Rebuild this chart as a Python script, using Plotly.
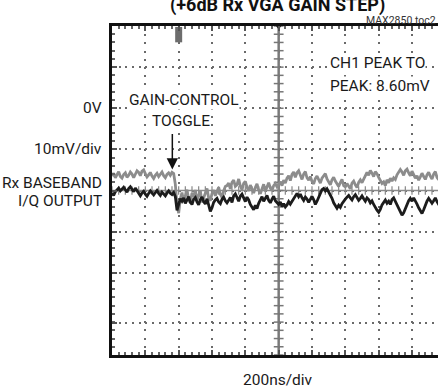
import numpy as np
import plotly.graph_objects as go

# Scope capture: 200 ns/div horizontally, 10 mV/div vertically (0 mV = 0V marker)
t_ns = np.arange(200) * 10  # sample spacing of the capture (10 ns)

ch_gray_mv = [
    -16.5, -15.8, -16.9, -16.0, -15.4, -16.6, -17.0, -16.1, -15.7, -16.8,
    -16.3, -15.5, -16.0, -16.9, -15.9, -15.2, -15.6, -16.4, -15.3, -15.0,
    -15.9, -16.7, -16.2, -15.6, -16.5, -17.1, -16.3, -15.8, -16.6, -16.0,
    -15.5, -16.4, -16.9, -16.1, -15.7, -16.3, -15.6, -15.9,
    -18.5, -23.5, -25.5, -22.0,
    -20.5, -22.8, -21.0, -19.8, -22.2, -23.0, -20.6, -21.5, -19.9, -22.4,
    -21.2, -20.0, -22.9, -21.6, -20.3, -19.5, -21.8, -22.5, -20.7, -19.9,
    -21.3, -20.4, -19.2, -20.9, -21.7, -20.1, -19.0, -18.8,
    -18.2, -19.6, -18.0, -17.5, -19.0, -18.6, -17.2, -18.9, -19.8, -18.3,
    -17.8, -19.2, -20.1, -18.7, -19.5, -20.6, -19.3, -18.4, -19.9, -20.8,
    -19.6, -18.5, -20.2, -19.0, -18.1, -19.4, -20.0, -18.8, -18.3, -19.1,
    -18.6, -17.9, -18.8, -17.5, -18.2, -17.0, -16.4, -17.6, -16.1, -15.5,
    -16.8, -15.7, -15.2, -16.5, -17.3, -16.0, -15.4, -16.9, -17.5, -16.6,
    -17.8, -18.4, -17.1, -16.5, -17.6, -18.2, -17.0, -16.3, -15.9, -17.2,
    -17.9, -18.6, -17.4, -16.8, -17.7, -18.5, -19.0, -18.1, -17.3, -18.8,
    -19.1, -18.3, -18.9, -19.6, -18.2, -17.7, -18.6, -19.3, -18.0, -17.4,
    -18.1, -17.2, -16.5, -15.6, -16.3, -15.1, -15.8, -16.6, -15.4, -15.9,
    -16.8, -17.6, -18.3, -17.9, -18.8, -17.4, -18.1, -17.0, -17.7, -16.9,
    -17.3, -16.2, -15.6, -14.9, -15.5, -16.3, -15.2, -14.8, -15.7, -16.4,
    -15.3, -16.1, -17.0, -16.4, -17.5, -16.7, -15.8, -16.6, -17.3, -16.2,
    -15.6, -16.5, -17.2, -16.0, -15.4, -16.8, -17.4, -16.1, -15.9, -16.7,
]

ch_black_mv = [
    -20.6, -21.2, -20.3, -19.9, -19.4, -20.1, -19.6, -19.2, -19.8, -20.4,
    -19.5, -19.1, -19.7, -20.3, -19.4, -20.0, -20.8, -21.3, -20.6, -20.2,
    -20.9, -21.4, -20.7, -20.1, -20.6, -21.1, -20.5, -20.0, -20.7, -21.2,
    -20.4, -20.8, -21.3, -20.6, -20.1, -20.7, -21.0, -20.5,
    -21.5, -24.8, -23.5, -22.0,
    -22.6, -21.8, -23.1, -22.4, -21.5, -22.9, -23.4, -22.1, -21.7, -22.8,
    -23.5, -22.2, -21.6, -22.7, -23.3, -22.0, -23.8, -25.1, -24.2, -22.9,
    -22.3, -21.9, -22.8, -23.2, -22.1, -21.6, -22.5, -23.0,
    -22.4, -21.7, -22.9, -21.3, -20.8, -21.9, -22.6, -21.4, -20.9, -21.8,
    -22.7, -21.6, -22.3, -23.4, -24.1, -24.7, -23.6, -24.4, -23.1, -22.2,
    -21.5, -22.6, -21.9, -21.2, -22.4, -23.0, -22.1, -21.4, -22.5, -23.1,
    -23.4, -22.8, -23.9, -23.2, -24.0, -23.5, -22.7, -23.3, -22.6, -22.0,
    -21.3, -20.7, -21.5, -20.9, -21.8, -22.4, -21.6, -22.1, -22.9, -22.3,
    -21.4, -22.2, -23.4, -22.6, -21.5, -20.4, -19.8, -19.5, -20.1, -19.6,
    -20.3, -20.9, -21.9, -23.0, -23.8, -24.3, -23.6, -24.1, -23.2, -22.5,
    -22.1, -21.6, -21.2, -21.8, -22.3, -21.5, -21.0, -21.7, -22.4, -21.9,
    -21.3, -22.0, -22.6, -21.8, -22.2, -23.0, -22.5, -23.4, -24.2, -24.8,
    -25.3, -24.6, -23.5, -22.8, -22.3, -23.1, -22.6, -23.4, -22.2, -21.8,
    -22.7, -23.5, -24.4, -25.2, -26.0, -25.4, -24.3, -23.2, -22.5, -21.9,
    -22.6, -21.8, -22.4, -23.3, -24.2, -25.1, -25.6, -24.7, -23.5, -22.6,
    -21.9, -22.4, -23.1, -22.5, -21.8, -22.7, -23.4, -22.8, -22.2, -23.0,
]

x_grid_ns = [200, 400, 600, 800, 1000, 1200, 1400, 1600, 1800]
y_grid_mv = [-52.2, -40, -30, -20, -10, 0, 10]

X_RANGE = [0, 1956]
Y_RANGE = [-60, 20]
CENTER_NS = 1000
CENTER_MV = -20
TRIGGER_NS = 400
TOGGLE_NS = 362

FONT = "Roboto, Liberation Sans, Arial, sans-serif"
GRID = "#6a6a6a"

fig = go.Figure()

# graticule centre cross with its fine division marks
fig.add_trace(go.Scatter(
    x=[CENTER_NS] * 41, y=np.arange(Y_RANGE[0], Y_RANGE[1] + 0.1, 2),
    mode="markers", marker=dict(symbol="line-ew", size=7,
                                line=dict(color="#777", width=1.5)),
    hoverinfo="skip", showlegend=False))
fig.add_trace(go.Scatter(
    x=np.arange(0, 2000, 40), y=[CENTER_MV] * 50,
    mode="markers", marker=dict(symbol="line-ns", size=6,
                                line=dict(color="#888", width=1.2)),
    hoverinfo="skip", showlegend=False))

fig.add_trace(go.Scatter(x=t_ns, y=ch_gray_mv, mode="lines",
                         line=dict(color="#8c8c8c", width=2.8),
                         showlegend=False))
fig.add_trace(go.Scatter(x=t_ns, y=ch_black_mv, mode="lines",
                         line=dict(color="#1c1c1c", width=2.8),
                         showlegend=False))

# trigger position marker and top-centre marker
fig.add_trace(go.Scatter(x=[TRIGGER_NS], y=[17.9], mode="markers",
                         marker=dict(symbol="line-ns", size=11,
                                     line=dict(color="#6d6d6d", width=7)),
                         cliponaxis=False, showlegend=False))
fig.add_trace(go.Scatter(x=[CENTER_NS], y=[Y_RANGE[1]], mode="markers",
                         marker=dict(symbol="triangle-down", size=7,
                                     color="#222"),
                         cliponaxis=False, showlegend=False))

fig.add_shape(type="line", x0=CENTER_NS, x1=CENTER_NS, y0=Y_RANGE[0],
              y1=Y_RANGE[1], line=dict(color="#7a7a7a", width=2.5),
              layer="between")
fig.add_shape(type="line", x0=X_RANGE[0], x1=X_RANGE[1], y0=CENTER_MV,
              y1=CENTER_MV, line=dict(color="#8a8a8a", width=1.5),
              layer="between")

txt = dict(family=FONT, size=15.5, color="#1a1a1a")


def label(text, **kw):
    base = dict(text=text, showarrow=False, font=txt)
    base.update(kw)
    fig.add_annotation(**base)


# left-hand channel labels
for s, yv in [("0V", 0), ("10mV/div", -10), ("Rx BASEBAND", -18.1),
              ("I/Q OUTPUT", -22.5)]:
    label(s, xref="paper", x=0, xanchor="right", xshift=-8,
          yref="y", y=yv, yanchor="middle")

label("GAIN-CONTROL", x=432, y=2.1, bgcolor="white", borderpad=0)
label("TOGGLE", x=414, y=-3.0, bgcolor="white", borderpad=0)
label("CH1 PEAK TO", x=1302, y=10.9, xanchor="left", bgcolor="white",
      borderpad=0)
label("PEAK: 8.60mV", x=1302, y=5.3, xanchor="left", bgcolor="white",
      borderpad=0)

fig.add_annotation(x=TOGGLE_NS, y=-14.9, ax=0, ay=-37, text="",
                   showarrow=True, arrowhead=2, arrowsize=1.5,
                   arrowwidth=1.5, arrowcolor="#111")

label("200ns/div", xref="paper", x=0.509, yref="paper", y=0,
      yanchor="middle", yshift=-25)
label("(+6dB Rx VGA GAIN STEP)", xref="paper", x=0.509, yref="paper", y=1,
      yanchor="middle", yshift=21,
      font=dict(family=FONT, size=18, color="#111", weight="bold"))
label("MAX2850 toc2", xref="paper", x=1, xanchor="right", yref="paper", y=1,
      yanchor="middle", yshift=6,
      font=dict(family=FONT, size=10.5, color="#333"))

fig.update_xaxes(range=X_RANGE, tickvals=x_grid_ns, showticklabels=False,
                 showgrid=True, gridcolor=GRID, gridwidth=2,
                 griddash="2px,6.2px", zeroline=False,
                 showline=True, linecolor="#111", linewidth=3,
                 mirror="allticks", ticks="inside", ticklen=5,
                 tickcolor="#555", tickwidth=1.5,
                 minor=dict(tickmode="linear", tick0=0, dtick=40,
                            ticks="inside", ticklen=3, tickcolor="#666",
                            tickwidth=1.5, showgrid=False))
fig.update_yaxes(range=Y_RANGE, tickvals=y_grid_mv, showticklabels=False,
                 showgrid=True, gridcolor=GRID, gridwidth=2,
                 griddash="2px,4.67px", zeroline=False,
                 showline=True, linecolor="#111", linewidth=3, mirror=False,
                 ticks="inside", ticklen=5, tickcolor="#555", tickwidth=1.5,
                 minor=dict(tickmode="linear", tick0=0, dtick=2,
                            ticks="inside", ticklen=3, tickcolor="#666",
                            tickwidth=1.5, showgrid=False))

fig.update_layout(width=438, height=388, autosize=False,
                  margin=dict(l=112, r=0, t=26, b=33, pad=0),
                  paper_bgcolor="white", plot_bgcolor="white",
                  showlegend=False)

fig.write_html("out.html")
